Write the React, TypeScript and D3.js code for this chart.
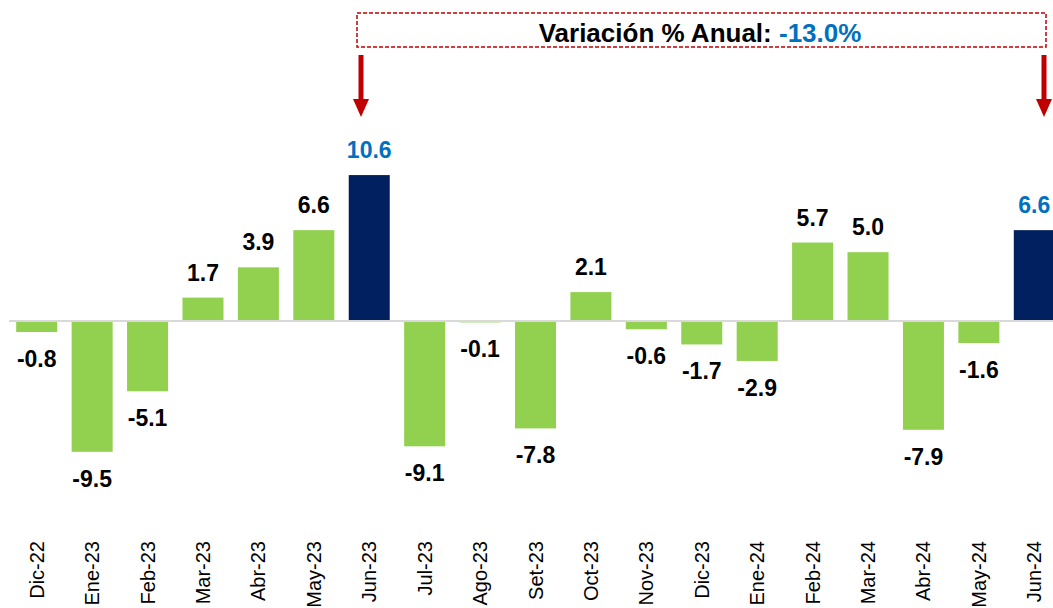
import React, { useEffect, useRef } from "react";
import * as d3 from "d3";

const months = [
  "Dic-22", "Ene-23", "Feb-23", "Mar-23", "Abr-23", "May-23", "Jun-23",
  "Jul-23", "Ago-23", "Set-23", "Oct-23", "Nov-23", "Dic-23", "Ene-24",
  "Feb-24", "Mar-24", "Abr-24", "May-24", "Jun-24",
];
const variation = [
  -0.8, -9.5, -5.1, 1.7, 3.9, 6.6, 10.6, -9.1, -0.1, -7.8, 2.1, -0.6, -1.7,
  -2.9, 5.7, 5.0, -7.9, -1.6, 6.6,
];
const highlighted = ["Jun-23", "Jun-24"];
const annualLabel = "Variación % Anual: ";
const annualValue = "-13.0%";

const GREEN = "#92d050";
const NAVY = "#002060";
const BLUE = "#0070c0";
const RED = "#c00000";

const App = () => {
  const svgRef = useRef<SVGSVGElement>(null);

  useEffect(() => {
    const width = 1053;
    const height = 608;
    const font = "'Liberation Sans', Arial, sans-serif";

    const svg = d3.select(svgRef.current);
    svg.selectAll("*").remove();

    const data = months.map((m, i) => ({ month: m, value: variation[i] }));

    const x = d3
      .scaleBand<string>()
      .domain(months)
      .range([9, 1062])
      .paddingInner(0.26)
      .paddingOuter(0.13);

    const y = d3.scaleLinear().domain([-10, 12]).range([458.7, 155.8]);

    // bars
    svg
      .append("g")
      .selectAll("rect")
      .data(data)
      .enter()
      .append("rect")
      .attr("x", (d) => x(d.month)!)
      .attr("width", x.bandwidth())
      .attr("y", (d) => y(Math.max(0, d.value)))
      .attr("height", (d) => Math.abs(y(d.value) - y(0)))
      .attr("fill", (d) => (highlighted.includes(d.month) ? NAVY : GREEN));

    // zero line
    svg
      .append("line")
      .attr("x1", 9)
      .attr("x2", width)
      .attr("y1", y(0))
      .attr("y2", y(0))
      .attr("stroke", "#d9d9d9")
      .attr("stroke-width", 2);

    // value labels
    svg
      .append("g")
      .selectAll("text")
      .data(data)
      .enter()
      .append("text")
      .attr("x", (d) => x(d.month)! + x.bandwidth() / 2)
      .attr("y", (d) => (d.value >= 0 ? y(d.value) - 17 : y(d.value) + 35))
      .attr("text-anchor", "middle")
      .style("font-family", font)
      .style("font-size", "23px")
      .style("font-weight", "bold")
      .attr("fill", (d) => (highlighted.includes(d.month) ? BLUE : "#000"))
      .text((d) => d.value.toFixed(1));

    // category labels
    svg
      .append("g")
      .selectAll("text")
      .data(months)
      .enter()
      .append("text")
      .attr(
        "transform",
        (d) => `translate(${x(d)! + x.bandwidth() / 2 + 7}, 541) rotate(-90)`
      )
      .attr("text-anchor", "end")
      .style("font-family", font)
      .style("font-size", "20px")
      .attr("fill", "#000")
      .text((d) => d);

    // annotation box
    svg
      .append("rect")
      .attr("x", 357)
      .attr("y", 13)
      .attr("width", 689)
      .attr("height", 34)
      .attr("fill", "none")
      .attr("stroke", RED)
      .attr("stroke-width", 1.5)
      .attr("stroke-dasharray", "4,2");

    const title = svg
      .append("text")
      .attr("x", 700)
      .attr("y", 42)
      .attr("text-anchor", "middle")
      .style("font-family", font)
      .style("font-size", "26px")
      .style("font-weight", "bold");
    title.append("tspan").attr("fill", "#000").text(annualLabel);
    title.append("tspan").attr("fill", BLUE).text(annualValue);

    // arrows
    const arrow = (cx: number) =>
      `M${cx - 2.5},55 L${cx + 2.5},55 L${cx + 2.5},99 L${cx + 8},99 L${cx},117 L${cx - 8},99 L${cx - 2.5},99 Z`;
    [361, 1044].forEach((cx) => {
      svg.append("path").attr("d", arrow(cx)).attr("fill", RED);
    });

    svg.attr("width", width).attr("height", height);
  }, []);

  return (
    <svg
      ref={svgRef}
      width={1053}
      height={608}
      style={{ position: "absolute", left: 0, top: 0, background: "#fff" }}
    ></svg>
  );
};

export default App;
